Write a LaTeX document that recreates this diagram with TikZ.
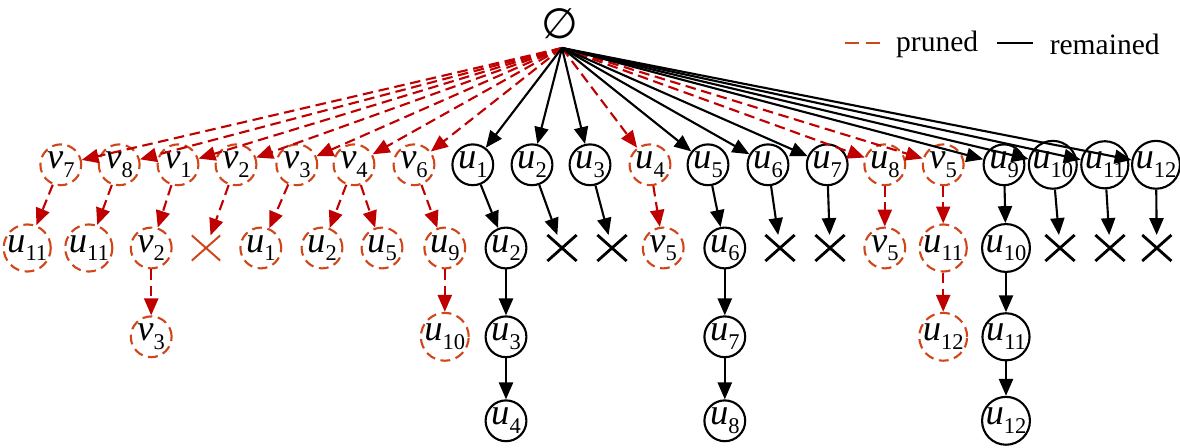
\documentclass[tikz,border=0pt]{standalone}
\usepackage{fontspec}
\setmainfont{Liberation Serif}
\newfontfamily\glyphfont{DejaVu Sans}
\usetikzlibrary{arrows.meta, shapes.misc}
\definecolor{c1}{HTML}{000000}
\definecolor{c2}{HTML}{C00000}
\definecolor{c3}{HTML}{D0461A}
\newcommand{\lbl}[2]{\textit{#1}\raisebox{-6pt}{\fontsize{16}{16}\selectfont #2}}

\begin{document}
\begin{tikzpicture}[
    every node/.style={font=\fontsize{21}{24}\selectfont},
    kept/.style={circle, draw=c1, line width=1.5pt, minimum size=1.02cm, inner sep=0pt, font=\fontsize{26}{27}\selectfont},
    cut/.style={kept, draw=c3, dash pattern=on 7pt off 4pt},
    keep/.style={-{Triangle[length=12pt, width=10pt]}, line width=1.5pt, color=c1},
    prune/.style={-{Triangle[length=12pt, width=10pt]}, line width=1.5pt, color=c2, dash pattern=on 7.5pt off 4pt},
    gone/.style={cross out, draw=c1, line width=2pt, minimum width=0.66cm, minimum height=0.58cm, inner sep=0pt},
    gonecut/.style={gone, draw=c3, line width=1.4pt},
]
\useasboundingbox (0,0) rectangle (29.50,11.20);

% ============================================================ root
\node[font=\fontsize{30}{32}\selectfont] (root) at (14.00,10.60) {\glyphfont ∅};
\coordinate (hub) at (14.05,10.00);

% ============================================================ legend
\coordinate (lgA) at (21.12,10.12);
\coordinate (lgB) at (22.00,10.12);
\coordinate (lgC) at (24.92,10.12);
\coordinate (lgD) at (25.82,10.12);
\draw[c3, line width=1.4pt, dash pattern=on 10pt off 5pt] (lgA) -- (lgB);
\draw[c1, line width=1.4pt] (lgC) -- (lgD);
\node[anchor=west] (lgpruned) at (22.28,10.10) {pruned};
\node[anchor=west] (lgkept) at (26.12,10.10) {remained};

% ============================================================ first level
\node[cut]  (pv7)  at (1.52,7.08)  {\lbl{v}{7}};
\node[cut]  (pv8)  at (2.98,7.08)  {\lbl{v}{8}};
\node[cut]  (pv1)  at (4.45,7.08)  {\lbl{v}{1}};
\node[cut]  (pv2)  at (5.90,7.08)  {\lbl{v}{2}};
\node[cut]  (pv3)  at (7.42,7.08)  {\lbl{v}{3}};
\node[cut]  (pv4)  at (8.85,7.08)  {\lbl{v}{4}};
\node[cut]  (pv6)  at (10.35,7.08) {\lbl{v}{6}};
\node[kept] (ku1)  at (11.82,7.08) {\lbl{u}{1}};
\node[kept] (ku2)  at (13.30,7.08) {\lbl{u}{2}};
\node[kept] (ku3)  at (14.75,7.08) {\lbl{u}{3}};
\node[cut]  (pu4)  at (16.25,7.08) {\lbl{u}{4}};
\node[kept] (ku5)  at (17.70,7.08) {\lbl{u}{5}};
\node[kept] (ku6)  at (19.20,7.08) {\lbl{u}{6}};
\node[kept] (ku7)  at (20.68,7.08) {\lbl{u}{7}};
\node[cut]  (pu8)  at (22.12,7.08) {\lbl{u}{8}};
\node[cut]  (pv5)  at (23.58,7.08) {\lbl{v}{5}};
\node[kept] (ku9)  at (25.10,7.08) {\lbl{u}{9}};
\node[kept] (ku10) at (26.32,7.08) {\lbl{u}{10}};
\node[kept] (ku11) at (27.62,7.08) {\lbl{u}{11}};
\node[kept] (ku12) at (28.90,7.08) {\lbl{u}{12}};

\foreach \n in {pv7, pv8, pv1, pv2, pv3, pv4, pv6, pu4, pu8, pv5}
    \draw[prune] (hub) -- (\n);
\foreach \n in {ku1, ku2, ku3, ku5, ku6, ku7, ku9, ku10, ku11, ku12}
    \draw[keep] (hub) -- (\n);

% ============================================================ pruned branches
\node[cut]     (pv7c)  at (0.68,5.00)  {\lbl{u}{11}};
\node[cut]     (pv8c)  at (2.22,5.00)  {\lbl{u}{11}};
\node[cut]     (pv1c)  at (3.78,5.00)  {\lbl{v}{2}};
\node[cut]     (pv1cc) at (3.78,2.78)  {\lbl{v}{3}};
\node[gonecut] (pv2c)  at (5.15,5.00)  {};
\node[cut]     (pv3c)  at (6.52,5.00)  {\lbl{u}{1}};
\node[cut]     (pv4a)  at (8.05,5.00)  {\lbl{u}{2}};
\node[cut]     (pv4b)  at (9.55,5.00)  {\lbl{u}{5}};
\node[cut]     (pv6c)  at (11.12,5.00) {\lbl{u}{9}};
\node[cut]     (pv6cc) at (11.12,2.78) {\lbl{u}{10}};
\node[cut]     (pu4c)  at (16.58,5.00) {\lbl{v}{5}};
\node[cut]     (pu8c)  at (22.12,5.00) {\lbl{v}{5}};
\node[cut]     (pv5c)  at (23.58,5.00) {\lbl{u}{11}};
\node[cut]     (pv5cc) at (23.58,2.78) {\lbl{u}{12}};

\draw[prune] (pv7) -- (pv7c);
\draw[prune] (pv8) -- (pv8c);
\draw[prune] (pv1) -- (pv1c);
\draw[prune] (pv1c) -- (pv1cc);
\draw[prune] (pv2) -- (pv2c);
\draw[prune] (pv3) -- (pv3c);
\draw[prune] (pv4) -- (pv4a);
\draw[prune] (pv4) -- (pv4b);
\draw[prune] (pv6) -- (pv6c);
\draw[prune] (pv6c) -- (pv6cc);
\draw[prune] (pu4) -- (pu4c);
\draw[prune] (pu8) -- (pu8c);
\draw[prune] (pv5) -- (pv5c);
\draw[prune] (pv5c) -- (pv5cc);

% ============================================================ remained branches
\node[kept] (ku1c)   at (12.65,5.00) {\lbl{u}{2}};
\node[kept] (ku1cc)  at (12.65,2.78) {\lbl{u}{3}};
\node[kept] (ku1ccc) at (12.65,0.68) {\lbl{u}{4}};
\node[kept] (ku5c)   at (18.12,5.00) {\lbl{u}{6}};
\node[kept] (ku5cc)  at (18.12,2.78) {\lbl{u}{7}};
\node[kept] (ku5ccc) at (18.12,0.68) {\lbl{u}{8}};
\node[kept] (ku9c)   at (25.15,5.00) {\lbl{u}{10}};
\node[kept] (ku9cc)  at (25.15,2.78) {\lbl{u}{11}};
\node[kept] (ku9ccc) at (25.15,0.68) {\lbl{u}{12}};

\node[gone] (ku2c)  at (14.05,5.00) {};
\node[gone] (ku3c)  at (15.30,5.00) {};
\node[gone] (ku6c)  at (19.50,5.00) {};
\node[gone] (ku7c)  at (20.75,5.00) {};
\node[gone] (ku10c) at (26.50,5.00) {};
\node[gone] (ku11c) at (27.75,5.00) {};
\node[gone] (ku12c) at (28.92,5.00) {};

\foreach \a/\b in {ku1/ku1c, ku1c/ku1cc, ku1cc/ku1ccc,
                   ku5/ku5c, ku5c/ku5cc, ku5cc/ku5ccc,
                   ku9/ku9c, ku9c/ku9cc, ku9cc/ku9ccc,
                   ku2/ku2c, ku3/ku3c, ku6/ku6c, ku7/ku7c,
                   ku10/ku10c, ku11/ku11c, ku12/ku12c}
    \draw[keep] (\a) -- (\b);

\end{tikzpicture}
\end{document}
